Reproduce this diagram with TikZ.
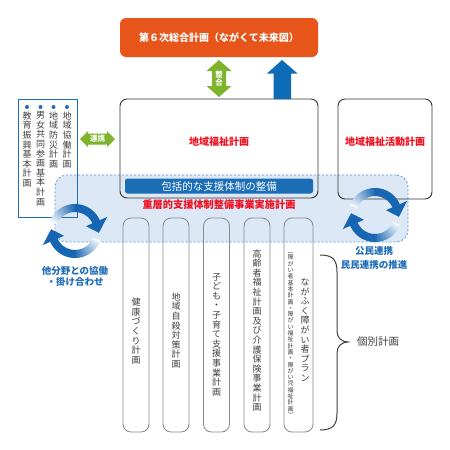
\documentclass[tikz,border=0pt]{standalone}
\usepackage{fontspec}
\usepackage{graphicx}
\newfontfamily\jp{Noto Sans CJK JP}
\usetikzlibrary{calc}
\definecolor{orangeT}{HTML}{E8551A}
\definecolor{greenA}{HTML}{7FB32B}
\definecolor{blueA}{HTML}{0E6BB5}
\definecolor{bannerB}{HTML}{1B6DB6}
\definecolor{regionF}{HTML}{DCE8F5}
\definecolor{regionD}{HTML}{5B9BD8}
\definecolor{redT}{HTML}{F01020}
\definecolor{cyc}{HTML}{1565B2}
\definecolor{txtB}{HTML}{1F6CB8}
\definecolor{grayT}{HTML}{404040}
\definecolor{boxD}{HTML}{333333}
\definecolor{rectD}{HTML}{8A8A8A}
\makeatletter
\newtoks\vtoks
\def\vstk#1{\vtoks={}\vstk@first#1\relax\the\vtoks}
\def\vstk@first#1{\vtoks={#1}\vstk@rest}
\def\vstk@rest#1{\ifx\relax#1\else\vtoks=\expandafter{\the\vtoks\\#1}\expandafter\vstk@rest\fi}
\makeatother
\newcommand\cycarrow[2]{%
 \foreach \s in {0,180}{%
  \foreach \i in {0,...,23}{%
   \pgfmathsetmacro\aa{160+\s-\i*5.8}%
   \pgfmathsetmacro\bb{\aa-6.4}%
   \pgfmathtruncatemacro\pp{min(100,6+\i*8)}%
   \fill[cyc!\pp!white] ({#1+27*cos(\aa)},{#2-27*sin(\aa)}) -- ({#1+27*cos(\bb)},{#2-27*sin(\bb)}) -- ({#1+19*cos(\bb)},{#2-19*sin(\bb)}) -- ({#1+19*cos(\aa)},{#2-19*sin(\aa)}) -- cycle;
  }%
  \pgfmathsetmacro\hb{160+\s-23*5.8-3}%
  \pgfmathsetmacro\ht{\hb-28}%
  \fill[cyc] ({#1+35*cos(\hb)},{#2-35*sin(\hb)}) -- ({#1+12*cos(\hb)},{#2-12*sin(\hb)}) -- ({#1+24*cos(\ht)},{#2-24*sin(\ht)}) -- cycle;
 }%
}
\tikzset{
 mainbox/.style={draw=boxD, line width=0.9pt, rounded corners=7pt, inner sep=0},
 planrect/.style={draw=rectD, line width=0.8pt, rounded corners=8pt, inner sep=0, minimum height=214pt},
 vtxt/.style={font=\jp\fontsize{9}{9.6}\selectfont, align=center, inner sep=0, text=grayT},
 vsmall/.style={font=\jp\fontsize{6}{6.3}\selectfont, align=center, inner sep=0, text=grayT},
 redlbl/.style={font=\jp\bfseries\fontsize{10}{12}\selectfont, text=redT, inner sep=0},
 bluelbl/.style={font=\jp\bfseries\fontsize{9.5}{11}\selectfont, text=txtB, inner sep=0, align=center},
 bul/.style={circle, fill=txtB, inner sep=0, minimum size=4pt},
}
\begin{document}
\begin{tikzpicture}[x=1pt,y=-1pt]
\useasboundingbox[fill=white] (0,0) rectangle (450,450);
% region
\node[fill=regionF, draw=regionD, dash pattern=on 2pt off 2pt, line width=0.8pt, rounded corners=12pt, minimum width=353pt, minimum height=67pt, inner sep=0] (region) at (231.5,208.5) {};
% top box
\node[fill=orangeT, rounded corners=6pt, minimum width=198pt, minimum height=39pt, inner sep=0, text=white, font=\jp\bfseries\fontsize{10}{12}\selectfont] (plan6) at (219,37.5) {第６次総合計画（ながくて未来図）};
% main boxes
\node[mainbox, minimum width=198pt, minimum height=99pt] (wf) at (219,148.5) {};
\node[redlbl] (wft) at (219,142) {地域福祉計画};
\node[mainbox, minimum width=94pt, minimum height=100pt] (wfa) at (385,149) {};
\node[redlbl] (wfat) at (385,142) {地域福祉活動計画};
% banner
\node[fill=bannerB, rounded corners=2.5pt, minimum width=188pt, minimum height=15pt, inner sep=0, text=white, font=\jp\fontsize{10.5}{12}\selectfont] (banner) at (219,186) {包括的な支援体制の整備};
\node[redlbl, font=\jp\bfseries\fontsize{10.2}{12}\selectfont] (jyuso) at (219,205) {重層的支援体制整備事業実施計画};
% plan rects
\node[planrect, minimum width=26pt] (p1) at (136,325) {};
\node[planrect, minimum width=26pt] (p2) at (176,325) {};
\node[planrect, minimum width=26pt] (p3) at (216.5,325) {};
\node[planrect, minimum width=26pt] (p4) at (257,325) {};
\node[planrect, minimum width=29pt] (p5) at (298.5,325) {};
\node[vtxt] (t1) at (136,331) {\vstk{健康づくり計画}};
\node[vtxt] (t2) at (176,330.5) {\vstk{地域自殺対策計画}};
\node[vtxt] (t3) at (216.5,334.5) {\vstk{子ども・子育て支援事業計画}};
\node[vtxt] (t4) at (257,330.5) {\vstk{高齢者福祉計画及び介護保険事業計画}};
\node[vtxt] (t5) at (305,330) {\vstk{ながふく障がい者プラン}};
\node[vsmall] (t6) at (290.5,335) {\vstk{︵障がい者基本計画・障がい福祉計画・障がい児福祉計画︶}};
% left list box
\node[draw=txtB, line width=0.8pt, minimum width=59pt, minimum height=118pt, inner sep=0] (list) at (47.5,158) {};
\node[bul] (b1) at (67,107) {};
\node[bul] (b2) at (53.5,107) {};
\node[bul] (b3) at (40.5,107) {};
\node[bul] (b4) at (27,107) {};
\node[vtxt, anchor=north] (l1) at (67,111.5) {\vstk{地域協働計画}};
\node[vtxt, anchor=north] (l2) at (53.5,111.5) {\vstk{地域防災計画}};
\node[vtxt, anchor=north] (l3) at (40.5,111.5) {\vstk{男女共同参画基本計画}};
\node[vtxt, anchor=north] (l4) at (27,111.5) {\vstk{教育振興基本計画}};
% green arrows
\fill[greenA] (219,60) -- (231.5,71) -- (226,71) -- (226,86) -- (231.5,86) -- (219,97) -- (206.5,86) -- (212,86) -- (212,71) -- (206.5,71) -- cycle;
\node[font=\jp\bfseries\fontsize{7.5}{8}\selectfont, text=white, align=center, inner sep=0] (seigo) at (219,78.5) {\vstk{整合}};
\fill[greenA] (80,139) -- (88,131) -- (88,133.5) -- (107,133.5) -- (107,131) -- (115,139) -- (107,147) -- (107,144.5) -- (88,144.5) -- (88,147) -- cycle;
\node[font=\jp\bfseries\fontsize{7.5}{8}\selectfont, text=white, inner sep=0] (renkei) at (97.5,139) {連携};
% blue up arrow
\fill[blueA] (282,60) -- (297.5,73.5) -- (291,73.5) -- (291,99) -- (273.5,99) -- (273.5,73.5) -- (267,73.5) -- cycle;
% cycle arrows
\cycarrow{75}{231}
\cycarrow{375}{215}
% blue labels
\node[bluelbl] (lbl1) at (75,276) {他分野との協働\\・掛け合わせ};
\node[bluelbl, font=\jp\bfseries\fontsize{9.5}{14.5}\selectfont] (lbl2) at (374,258) {公民連携\\民民連携の推進};
% brace
\draw[grayT, line width=1pt] (320,255) .. controls (333,255) and (337,260) .. (337,272) -- (337,331) .. controls (337,338) and (342,342) .. (348,342) .. controls (342,342) and (337,346) .. (337,353) -- (337,413) .. controls (337,425) and (333,430) .. (320,430);
\node[font=\jp\fontsize{10.5}{12}\selectfont, text=grayT, inner sep=0, anchor=west] (kobetsu) at (357,342) {個別計画};
\end{tikzpicture}
\end{document}
